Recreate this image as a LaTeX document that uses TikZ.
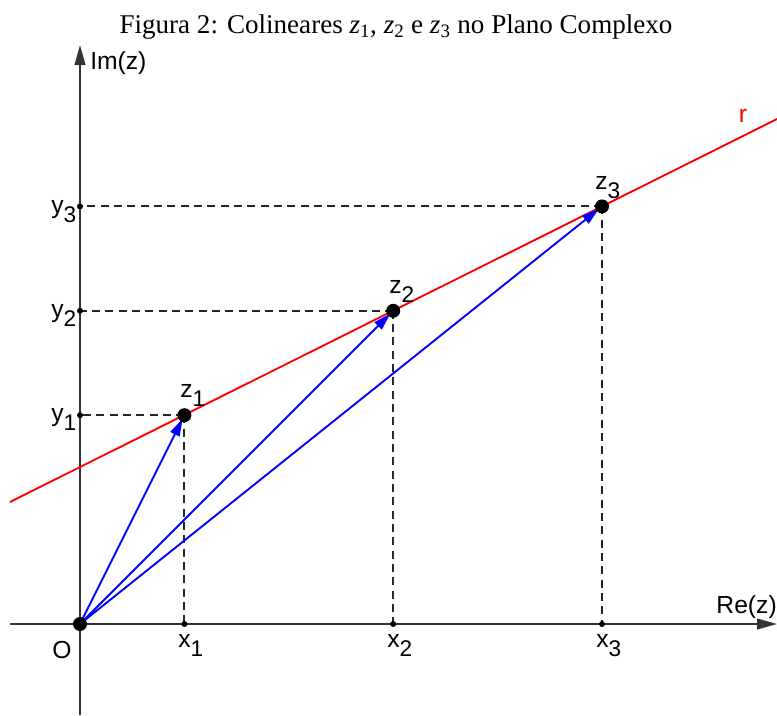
\documentclass[tikz,border=0pt]{standalone}
\usepackage{fontspec}
\setmainfont{Liberation Serif}
\newfontfamily\arial{Liberation Sans}
\usetikzlibrary{arrows.meta}
\newcommand{\lsub}[2]{#1\raisebox{-0.38em}{\fontsize{17}{18}\selectfont #2}}
\begin{document}
\begin{tikzpicture}[x=0.75pt,y=-0.75pt,
  axis/.style={draw=black!80,line width=1.6pt,-{Triangle[length=15pt,width=8pt]}},
  guide/.style={draw=black!85,line width=1.5pt,dash pattern=on 6pt off 4pt},
  vec/.style={draw=blue,line width=1.4pt,-{Triangle[length=13pt,width=7.5pt]},shorten >=3pt},
  redline/.style={draw=red,line width=1.4pt},
  lab/.style={font=\arial\fontsize{18.5}{20}\selectfont,inner sep=0pt},
  bigdot/.style={circle,fill=black,inner sep=0pt,minimum size=10.5pt},
  tick/.style={circle,fill=black,inner sep=0pt,minimum size=4.5pt}]
\useasboundingbox (0,0) rectangle (777,715);
\node[font=\fontsize{20.3}{22}\selectfont] (title) at (396,27) {Figura 2: Colineares \textit{z}\textsubscript{1}, \textit{z}\textsubscript{2} e \textit{z}\textsubscript{3} no Plano Complexo};
% coordinates
\coordinate (O) at (80,624);
\coordinate (p1) at (184.4,415.2);
\coordinate (p2) at (393.2,310.8);
\coordinate (p3) at (602,206.4);
\coordinate (X1) at (184.4,624);
\coordinate (X2) at (393.2,624);
\coordinate (X3) at (602,624);
\coordinate (Y1) at (80,415.2);
\coordinate (Y2) at (80,310.8);
\coordinate (Y3) at (80,206.4);
\coordinate (xs) at (10,624);
\coordinate (xe) at (777,624);
\coordinate (ys) at (80,715);
\coordinate (ye) at (80,45);
\coordinate (rs) at (10,502);
\coordinate (re) at (777,119);
% dashed guides
\draw[guide] (p1) -- (X1);
\draw[guide] (p2) -- (X2);
\draw[guide] (p3) -- (X3);
\draw[guide] (p1) -- (Y1);
\draw[guide] (p2) -- (Y2);
\draw[guide] (p3) -- (Y3);
% axes
\draw[axis] (xs) -- (xe);
\draw[axis] (ys) -- (ye);
% red line
\draw[redline] (rs) -- (re);
% vectors
\draw[vec] (O) -- (p1);
\draw[vec] (O) -- (p2);
\draw[vec] (O) -- (p3);
% dots
\node[bigdot] (o) at (O) {};
\node[bigdot] (z1) at (p1) {};
\node[bigdot] (z2) at (p2) {};
\node[bigdot] (z3) at (p3) {};
\foreach \c in {X1,X2,X3,Y1,Y2,Y3} {\node[tick] at (\c) {};}
% labels
\node[lab,anchor=west] (im) at (90,63) {Im(z)};
\node[lab,anchor=east] (rez) at (777,607) {Re(z)};
\node[lab,text=red] (r) at (743,116) {r};
\node[lab] (ol) at (62,650) {O};
\node[lab,anchor=base west] (x1l) at (178,647) {\lsub{x}{1}};
\node[lab,anchor=base west] (x2l) at (387,647) {\lsub{x}{2}};
\node[lab,anchor=base west] (x3l) at (596,647) {\lsub{x}{3}};
\node[lab,anchor=base west] (y1l) at (51,421) {\lsub{y}{1}};
\node[lab,anchor=base west] (y2l) at (51,317) {\lsub{y}{2}};
\node[lab,anchor=base west] (y3l) at (51,213) {\lsub{y}{3}};
\node[lab,anchor=base west] (z1l) at (180,397) {\lsub{z}{1}};
\node[lab,anchor=base west] (z2l) at (389,293) {\lsub{z}{2}};
\node[lab,anchor=base west] (z3l) at (595,189) {\lsub{z}{3}};
\end{tikzpicture}
\end{document}
